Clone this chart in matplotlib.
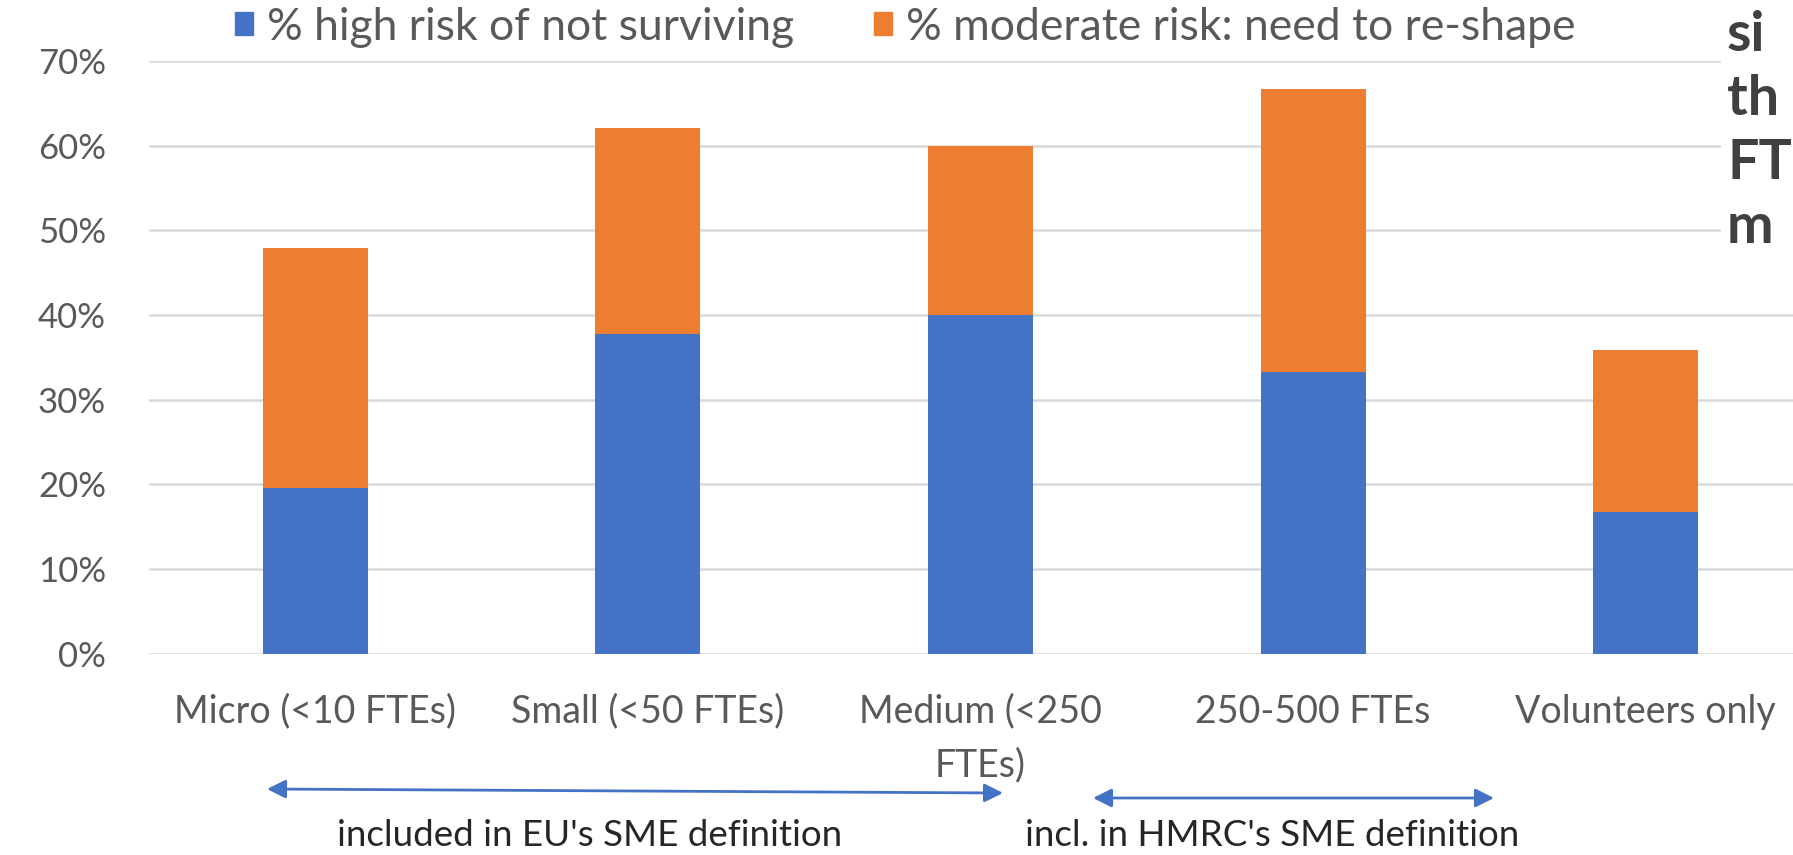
import matplotlib
matplotlib.use("Agg")
import matplotlib.pyplot as plt
from matplotlib.patches import Patch, Rectangle
from matplotlib.ticker import PercentFormatter

# chart data
categories = ["Micro (<10 FTEs)", "Small (<50 FTEs)", "Medium (<250\nFTEs)",
              "250-500 FTEs", "Volunteers only"]
high_risk = [19.6, 37.8, 40.0, 33.3, 16.7]
moderate_risk = [28.3, 24.3, 20.0, 33.4, 19.1]
series_names = ["% high risk of not surviving", "% moderate risk: need to re-shape"]

BLUE = "#4472C4"
ORANGE = "#ED7D31"
TEXT = "#595959"
GRID = "#D9D9D9"

plt.rcParams["font.family"] = ["Lato", "DejaVu Sans"]

W, H = 1793, 855
fig = plt.figure(figsize=(W / 100, H / 100), dpi=100)
# axes runs slightly past the right edge like the cropped original
ax = fig.add_axes([149 / W, (H - 653.5) / H, 1663 / W, (653.5 - 61) / H])

x = range(len(categories))
ax.bar(x, high_risk, width=0.316, color=BLUE, zorder=3)
ax.bar(x, moderate_risk, bottom=high_risk, width=0.316, color=ORANGE, zorder=3)

ax.set_xlim(-0.5, len(categories) - 0.5)
ax.set_ylim(0, 70)
ax.set_yticks(range(0, 71, 10))
ax.yaxis.set_major_formatter(PercentFormatter(decimals=0))
ax.set_xticks(list(x))
ax.set_xticklabels(categories, linespacing=1.6, fontsize=27)
ax.tick_params(axis="both", length=0, colors=TEXT)
ax.tick_params(axis="y", pad=31, labelsize=25)
ax.tick_params(axis="x", pad=29)
ax.grid(axis="y", color=GRID, linewidth=1.8, zorder=0)
for s in ax.spines.values():
    s.set_visible(False)

# legend along the top
handles = [Patch(color=BLUE), Patch(color=ORANGE)]
fig.legend(handles, series_names, loc="center", bbox_to_anchor=(905 / W, 1 - 27 / H),
           ncol=2, frameon=False, fontsize=32, labelcolor=TEXT,
           handlelength=0.42, handleheight=0.42, handletextpad=0.3, columnspacing=1.8)

# cropped text box on the right
fig.patches.append(Rectangle((1721 / W, 1 - 311 / H), 1, 311 / H,
                             transform=fig.transFigure, facecolor="white",
                             edgecolor="none", zorder=5))
for i, frag in enumerate(["si", "th", "FT", "m"]):
    fig.text(1727 / W, 1 - (35 + 64 * i) / H, frag, fontsize=40, fontweight="bold",
             color="#404040", va="center", ha="left", zorder=6)

# SME definition arrows
arrow = dict(arrowstyle="<|-|>", color=BLUE, lw=2, mutation_scale=28,
             shrinkA=0, shrinkB=0)
ax.annotate("", xy=(1003, H - 793), xytext=(267, H - 789),
            xycoords="figure pixels", textcoords="figure pixels", arrowprops=arrow)
ax.annotate("", xy=(1494, H - 798), xytext=(1093, H - 798),
            xycoords="figure pixels", textcoords="figure pixels", arrowprops=arrow)
fig.text(590 / W, 1 - 846 / H, "included in EU's SME definition", fontsize=26.5,
         color="#262626", ha="center", va="baseline")
fig.text(1272 / W, 1 - 846 / H, "incl. in HMRC's SME definition", fontsize=26.5,
         color="#262626", ha="center", va="baseline")

fig.savefig("out.png", dpi=100)
